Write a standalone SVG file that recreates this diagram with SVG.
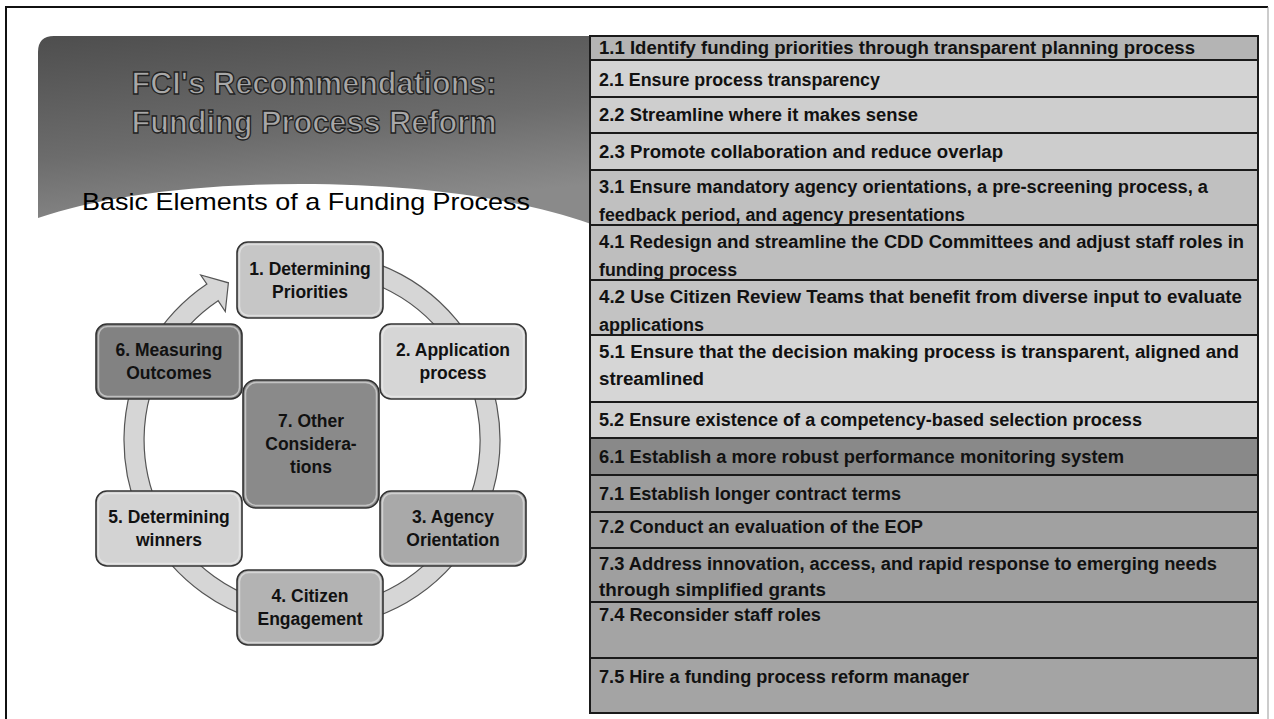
<svg xmlns="http://www.w3.org/2000/svg" width="1274" height="719" viewBox="0 0 1274 719">
<defs>
<linearGradient id="bannerGrad" x1="0" y1="0" x2="0.3" y2="1">
<stop offset="0" stop-color="#4e4e4e"/>
<stop offset="0.6" stop-color="#6c6c6c"/>
<stop offset="1" stop-color="#8a8a8a"/>
</linearGradient>
<style>
.frame{fill:none;stroke:#111;stroke-width:2}
.title{font-family:"Liberation Sans",Arial,sans-serif;font-weight:bold;font-size:31px;fill:#a8a8a8;stroke:#222;stroke-width:1.3;text-anchor:middle}
.sub{font-family:"Liberation Sans",Arial,sans-serif;font-size:24px;fill:#000;text-anchor:middle}
.box{stroke:#333;stroke-width:1.6}
.bevel{fill:none;stroke:#f2f2f2;stroke-opacity:0.55;stroke-width:1.5}
.bt{font-family:"Liberation Sans",Arial,sans-serif;font-weight:bold;font-size:17.5px;fill:#111;text-anchor:middle}
.ring{fill:#d6d6d6;stroke:#555;stroke-width:1.2}
.row{stroke:#1a1a1a;stroke-width:2}
.rt{font-family:"Liberation Sans",Arial,sans-serif;font-weight:bold;font-size:17.5px;fill:#111}
</style>
</defs>
<rect width="1274" height="719" fill="#fff"/>
<!-- frame -->
<path class="frame" d="M6,725 V7 H1268"/>
<line x1="1268" y1="7" x2="1268" y2="719" stroke="#999" stroke-width="1"/>
<!-- banner -->
<g id="banner">
<path d="M38,52 Q38,36 54,36 H591 V224 C520,199 420,184 300,184 C190,184 100,197 38,218 Z" fill="url(#bannerGrad)"/>
<text class="title" x="314" y="94" textLength="365" lengthAdjust="spacingAndGlyphs">FCI's Recommendations:</text>
<text class="title" x="314" y="133" textLength="365" lengthAdjust="spacingAndGlyphs">Funding Process Reform</text>
<text class="sub" x="306" y="210" textLength="448" lengthAdjust="spacingAndGlyphs">Basic Elements of a Funding Process</text>
</g>
<!-- connectors -->
<g id="connectors">
<path class="ring" d="M295.6,252.7 A188,188 0 1 1 206.9,284.1 L200.7,275.0 L228.4,282.8 L225.3,311.5 L218.1,300.7 A168,168 0 1 0 297.4,272.6 Z"/>
</g>
<!-- nodes -->
<g id="node-1">
<rect class="box" x="237" y="242" width="146" height="76" rx="11" fill="#c6c6c6"/>
<rect class="bevel" x="239.5" y="244.5" width="141" height="71" rx="9"/>
<text class="bt" x="310" y="274.5">1. Determining</text>
<text class="bt" x="310" y="297.5">Priorities</text>
</g>
<g id="node-2">
<rect class="box" x="380" y="324" width="146" height="75" rx="11" fill="#d6d6d6"/>
<rect class="bevel" x="382.5" y="326.5" width="141" height="70" rx="9"/>
<text class="bt" x="453" y="356">2. Application</text>
<text class="bt" x="453" y="379">process</text>
</g>
<g id="node-3">
<rect class="box" x="380" y="491" width="146" height="75" rx="11" fill="#a9a9a9"/>
<rect class="bevel" x="382.5" y="493.5" width="141" height="70" rx="9"/>
<text class="bt" x="453" y="523">3. Agency</text>
<text class="bt" x="453" y="546">Orientation</text>
</g>
<g id="node-4">
<rect class="box" x="237" y="570" width="146" height="75" rx="11" fill="#b3b3b3"/>
<rect class="bevel" x="239.5" y="572.5" width="141" height="70" rx="9"/>
<text class="bt" x="310" y="602">4. Citizen</text>
<text class="bt" x="310" y="625">Engagement</text>
</g>
<g id="node-5">
<rect class="box" x="96" y="491" width="146" height="75" rx="11" fill="#d3d3d3"/>
<rect class="bevel" x="98.5" y="493.5" width="141" height="70" rx="9"/>
<text class="bt" x="169" y="522.5">5. Determining</text>
<text class="bt" x="169" y="545.5">winners</text>
</g>
<g id="node-6">
<rect class="box" x="96" y="324" width="146" height="75" rx="11" fill="#828282"/>
<rect class="bevel" x="98.5" y="326.5" width="141" height="70" rx="9"/>
<text class="bt" x="169" y="356">6. Measuring</text>
<text class="bt" x="169" y="379">Outcomes</text>
</g>
<g id="node-7">
<rect class="box" x="243" y="380" width="136" height="128" rx="13" fill="#8a8a8a"/>
<rect class="bevel" x="245.5" y="382.5" width="131" height="123" rx="11"/>
<text class="bt" x="311" y="427">7. Other</text>
<text class="bt" x="311" y="450">Considera-</text>
<text class="bt" x="311" y="473">tions</text>
</g>
<!-- table -->
<g id="table">
<g id="row-1-1"><rect class="row" x="590" y="36" width="668" height="24" fill="#b4b4b4"/><text class="rt" x="599" y="54" textLength="596" lengthAdjust="spacingAndGlyphs">1.1 Identify funding priorities through transparent planning process</text></g>
<g id="row-2-1"><rect class="row" x="590" y="60" width="668" height="37" fill="#d3d3d3"/><text class="rt" x="599" y="86" textLength="281" lengthAdjust="spacingAndGlyphs">2.1 Ensure process transparency</text></g>
<g id="row-2-2"><rect class="row" x="590" y="97" width="668" height="36" fill="#cecece"/><text class="rt" x="599" y="121" textLength="319" lengthAdjust="spacingAndGlyphs">2.2 Streamline where it makes sense</text></g>
<g id="row-2-3"><rect class="row" x="590" y="133" width="668" height="37" fill="#cdcdcd"/><text class="rt" x="599" y="158" textLength="404" lengthAdjust="spacingAndGlyphs">2.3 Promote collaboration and reduce overlap</text></g>
<g id="row-3-1"><rect class="row" x="590" y="170" width="668" height="55" fill="#c0c0c0"/><text class="rt" x="599" y="193" textLength="609" lengthAdjust="spacingAndGlyphs">3.1 Ensure mandatory agency orientations, a pre-screening process, a</text><text class="rt" x="599" y="221" textLength="366" lengthAdjust="spacingAndGlyphs">feedback period, and agency presentations</text></g>
<g id="row-4-1"><rect class="row" x="590" y="225" width="668" height="55" fill="#bebebe"/><text class="rt" x="599" y="248" textLength="645" lengthAdjust="spacingAndGlyphs">4.1 Redesign and streamline the CDD Committees and adjust staff roles in</text><text class="rt" x="599" y="276" textLength="138" lengthAdjust="spacingAndGlyphs">funding process</text></g>
<g id="row-4-2"><rect class="row" x="590" y="280" width="668" height="55" fill="#c3c3c3"/><text class="rt" x="599" y="303" textLength="643" lengthAdjust="spacingAndGlyphs">4.2 Use Citizen Review Teams that benefit from diverse input to evaluate</text><text class="rt" x="599" y="331" textLength="105" lengthAdjust="spacingAndGlyphs">applications</text></g>
<g id="row-5-1"><rect class="row" x="590" y="335" width="668" height="67" fill="#d6d6d6"/><text class="rt" x="599" y="358" textLength="640" lengthAdjust="spacingAndGlyphs">5.1 Ensure that the decision making process is transparent, aligned and</text><text class="rt" x="599" y="385" textLength="105" lengthAdjust="spacingAndGlyphs">streamlined</text></g>
<g id="row-5-2"><rect class="row" x="590" y="402" width="668" height="36" fill="#d0d0d0"/><text class="rt" x="599" y="426" textLength="543" lengthAdjust="spacingAndGlyphs">5.2 Ensure existence of a competency-based selection process</text></g>
<g id="row-6-1"><rect class="row" x="590" y="438" width="668" height="37" fill="#898989"/><text class="rt" x="599" y="463" textLength="525" lengthAdjust="spacingAndGlyphs">6.1 Establish a more robust performance monitoring system</text></g>
<g id="row-7-1"><rect class="row" x="590" y="475" width="668" height="37" fill="#9d9d9d"/><text class="rt" x="599" y="500" textLength="302" lengthAdjust="spacingAndGlyphs">7.1 Establish longer contract terms</text></g>
<g id="row-7-2"><rect class="row" x="590" y="512" width="668" height="36" fill="#a1a1a1"/><text class="rt" x="599" y="533" textLength="324" lengthAdjust="spacingAndGlyphs">7.2 Conduct an evaluation of the EOP</text></g>
<g id="row-7-3"><rect class="row" x="590" y="548" width="668" height="54" fill="#9f9f9f"/><text class="rt" x="599" y="570" textLength="618" lengthAdjust="spacingAndGlyphs">7.3 Address innovation, access, and rapid response to emerging needs</text><text class="rt" x="599" y="596" textLength="227" lengthAdjust="spacingAndGlyphs">through simplified grants</text></g>
<g id="row-7-4"><rect class="row" x="590" y="602" width="668" height="56" fill="#a4a4a4"/><text class="rt" x="599" y="621" textLength="222" lengthAdjust="spacingAndGlyphs">7.4 Reconsider staff roles</text></g>
<g id="row-7-5"><rect class="row" x="590" y="658" width="668" height="55" fill="#a4a4a4"/><text class="rt" x="599" y="683" textLength="370" lengthAdjust="spacingAndGlyphs">7.5 Hire a funding process reform manager</text></g>
</g>
</svg>
